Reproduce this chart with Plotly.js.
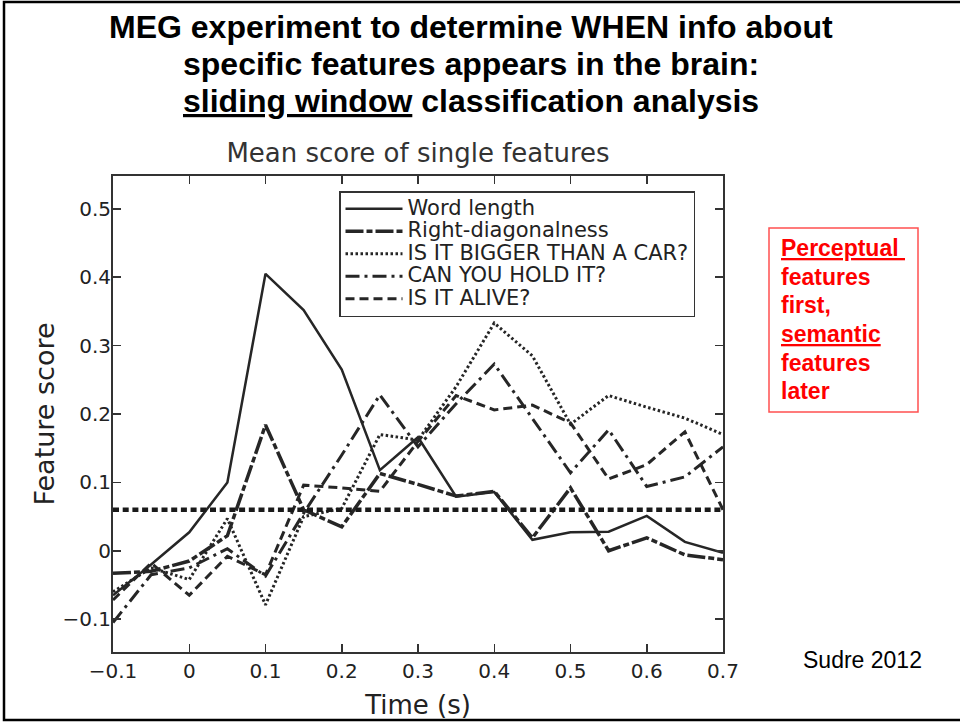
<!DOCTYPE html>
<html><head><meta charset="utf-8">
<script src="https://cdn.plot.ly/plotly-3.0.1.min.js"></script>
<style>html,body{margin:0;padding:0;background:#fff;}#chart{width:960px;height:723px;}</style>
</head><body><div id="chart"></div>
<script>
// ---- data ----
const time = [-0.1, -0.05, 0, 0.05, 0.1, 0.15, 0.2, 0.25, 0.3, 0.35, 0.4, 0.45, 0.5, 0.55, 0.6, 0.65, 0.7];
const wordLength = [-0.065, -0.020, 0.027, 0.100, 0.405, 0.352, 0.265, 0.118, 0.166, 0.079, 0.086, 0.016, 0.027, 0.028, 0.051, 0.013, -0.003];
const rightDiagonalness = [-0.033, -0.030, -0.015, 0.022, 0.184, 0.060, 0.035, 0.113, 0.097, 0.080, 0.087, 0.019, 0.092, 0.000, 0.019, -0.006, -0.013];
const biggerThanCar = [-0.060, -0.025, -0.042, 0.047, -0.079, 0.050, 0.062, 0.170, 0.162, 0.240, 0.333, 0.285, 0.185, 0.227, 0.210, 0.194, 0.170];
const canYouHoldIt = [-0.105, -0.035, -0.025, 0.003, -0.037, 0.055, 0.140, 0.228, 0.152, 0.215, 0.273, 0.193, 0.114, 0.177, 0.094, 0.108, 0.152];
const isItAlive = [-0.072, -0.018, -0.065, -0.008, -0.035, 0.096, 0.092, 0.087, 0.160, 0.227, 0.206, 0.213, 0.187, 0.105, 0.126, 0.174, 0.060];
const chanceLevel = 0.06;
const seriesNames = ['Word length', 'Right-diagonalness', 'IS IT BIGGER THAN A CAR?', 'CAN YOU HOLD IT?', 'IS IT ALIVE?'];
const xTickVals = [-0.1, 0, 0.1, 0.2, 0.3, 0.4, 0.5, 0.6, 0.7];
const yTickVals = [-0.1, 0, 0.1, 0.2, 0.3, 0.4, 0.5];
const slideTitle = ['MEG experiment to determine WHEN info about', 'specific features appears in the brain:', '<u>sliding window</u> classification analysis'];
const chartTitle = 'Mean score of single features';
const noteLines = ['<u>Perceptual </u>', 'features', 'first,', '<u>semantic</u>', 'features', 'later'];
const citation = 'Sudre 2012';

// ---- layout helpers (pixel -> paper) ----
const L = 113, R = 723, T = 176, B = 652;
const px = x => (x - L) / (R - L);
const py = y => (B - y) / (B - T);

const ink = '#262626';
const seriesData = [wordLength, rightDiagonalness, biggerThanCar, canYouHoldIt, isItAlive];
const styles = [
  {dash: 'solid', width: 2.5},
  {dash: '18px,3px,6px,3px', width: 3.5},
  {dash: '2.5px,2.5px', width: 3},
  {dash: '14px,5px,3px,5px', width: 3},
  {dash: '9px,5px', width: 3}
];

const traces = seriesData.map((ys, i) => ({
  type: 'scatter', mode: 'lines', x: time, y: ys,
  name: '<span style="font-size:21px">' + seriesNames[i] + '</span>',
  line: {color: ink, width: styles[i].width, dash: styles[i].dash}
}));
traces.push({
  type: 'scatter', mode: 'lines', x: [time[0], time[time.length - 1]], y: [chanceLevel, chanceLevel],
  showlegend: false, hoverinfo: 'skip',
  line: {color: '#1a1a1a', width: 4.5, dash: '6px,3.7px'}
});

const annotations = [];
[27, 64, 101].forEach((y, i) => annotations.push({
  xref: 'paper', yref: 'paper', x: px(471), y: py(y), xanchor: 'center', yanchor: 'middle',
  text: '<b>' + slideTitle[i] + '</b>', showarrow: false,
  font: {family: 'Liberation Sans, Arial', size: 32, color: '#000'}
}));
[248, 277, 305, 334, 363, 391].forEach((y, i) => annotations.push({
  xref: 'paper', yref: 'paper', x: px(779), y: py(y), xanchor: 'left', yanchor: 'middle',
  text: '<b>' + noteLines[i] + '</b>', showarrow: false,
  font: {family: 'Liberation Sans, Arial', size: 23, color: '#ff0000'}
}));
annotations.push({
  xref: 'paper', yref: 'paper', x: px(862), y: py(660), xanchor: 'center', yanchor: 'middle',
  text: citation, showarrow: false,
  font: {family: 'Liberation Sans, Arial', size: 23, color: '#000'}
});

const shapes = [
  {type: 'rect', xref: 'paper', yref: 'paper', x0: px(769), x1: px(918), y0: py(228), y1: py(412),
   line: {color: '#ff5050', width: 1.5}, fillcolor: 'rgba(0,0,0,0)'},
  {type: 'rect', xref: 'paper', yref: 'paper', x0: px(4), x1: px(980), y0: py(720), y1: py(2),
   line: {color: '#000', width: 2.5}, fillcolor: 'rgba(0,0,0,0)'}
];

const axisCommon = {
  ticks: 'inside', ticklen: 8, tickwidth: 1.5, tickcolor: '#333',
  showline: true, linewidth: 2, linecolor: '#333', mirror: 'ticks',
  showgrid: false, zeroline: false, automargin: false,
  tickfont: {family: 'DejaVu Sans', size: 20, color: '#222'}
};

const layout = {
  width: 960, height: 723,
  margin: {l: L, r: 960 - R, t: T, b: 723 - B, pad: 0},
  paper_bgcolor: '#fff', plot_bgcolor: '#fff',
  font: {family: 'DejaVu Sans', color: '#222'},
  title: {text: chartTitle, xref: 'paper', x: 0.5, xanchor: 'center', yref: 'container', y: 1 - 153 / 723, yanchor: 'middle',
          font: {family: 'DejaVu Sans', size: 26, color: '#333'}},
  showlegend: true,
  legend: {x: px(339), y: py(191), xanchor: 'left', yanchor: 'top', bgcolor: '#fff', bordercolor: '#333', borderwidth: 1.5,
           font: {family: 'DejaVu Sans', size: 15, color: '#222'}, itemwidth: 57, tracegroupgap: 0},
  xaxis: Object.assign({}, axisCommon, {range: [-0.1, 0.7], tickvals: xTickVals, ticklabelstandoff: 0,
           title: {text: 'Time (s)', font: {family: 'DejaVu Sans', size: 26, color: '#222'}, standoff: 14}}),
  yaxis: Object.assign({}, axisCommon, {range: [-0.148, 0.548], tickvals: yTickVals, ticklabelstandoff: -4,
           title: {text: 'Feature score', font: {family: 'DejaVu Sans', size: 27, color: '#222'}, standoff: 0}}),
  annotations: annotations, shapes: shapes
};

Plotly.newPlot('chart', traces, layout, {staticPlot: true});
</script></body></html>
